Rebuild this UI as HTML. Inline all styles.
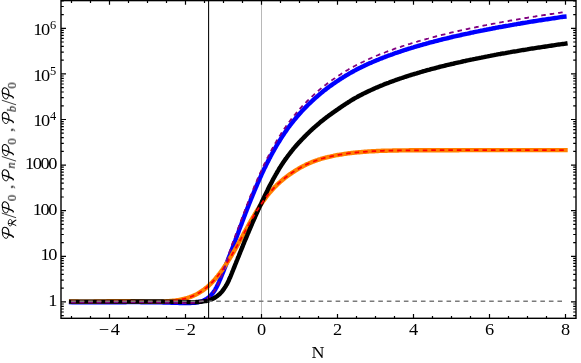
<!DOCTYPE html>
<html><head><meta charset="utf-8"><title>plot</title>
<style>html,body{margin:0;padding:0;background:#fff;}body{width:581px;height:363px;overflow:hidden;font-family:"Liberation Serif",serif;}svg{display:block;}</style>
</head><body>
<svg width="581" height="363" viewBox="0 0 581 363">
<rect width="581" height="363" fill="#fff"/>
<line x1="261.5" y1="0.6" x2="261.5" y2="318.3" stroke="#b8b8b8" stroke-width="1"/>
<path d="M71.1,302.2 L72.7,302.3 L74.3,302.3 L75.9,302.3 L77.5,302.3 L79.0,302.4 L80.6,302.4 L82.2,302.4 L83.8,302.4 L85.3,302.4 L86.9,302.4 L88.4,302.4 L90.0,302.4 L91.6,302.4 L93.1,302.4 L94.7,302.4 L96.2,302.4 L97.8,302.4 L99.3,302.3 L100.9,302.3 L102.4,302.3 L104.0,302.3 L105.5,302.3 L107.0,302.3 L108.6,302.3 L110.1,302.3 L111.7,302.2 L113.2,302.2 L114.8,302.2 L116.3,302.2 L117.9,302.2 L119.4,302.2 L121.0,302.2 L122.5,302.2 L124.1,302.2 L125.6,302.2 L127.2,302.1 L128.7,302.1 L130.3,302.1 L131.8,302.1 L133.4,302.1 L135.0,302.1 L136.5,302.1 L138.1,302.1 L139.6,302.1 L141.2,302.2 L142.8,302.2 L144.3,302.2 L145.9,302.2 L147.5,302.2 L149.1,302.2 L150.6,302.2 L152.2,302.3 L153.8,302.3 L155.4,302.3 L157.0,302.3 L158.6,302.4 L160.1,302.4 L161.7,302.4 L163.3,302.5 L164.9,302.5 L166.5,302.5 L168.1,302.6 L169.7,302.6 L171.4,302.7 L173.0,302.7 L174.6,302.8 L176.2,302.8 L177.8,302.9 L179.4,303.0 L181.0,303.0 L182.6,303.0 L184.2,303.1 L185.8,303.1 L187.3,303.1 L188.9,303.0 L190.4,303.0 L191.9,302.9 L193.3,302.8 L194.7,302.7 L196.1,302.5 L197.5,302.3 L198.8,302.0 L200.0,301.7 L201.2,301.4 L202.4,301.0 L203.5,300.6 L204.6,300.1 L205.6,299.5 L206.6,298.9 L207.5,298.3 L208.4,297.6 L209.3,296.9 L210.1,296.2 L210.8,295.4 L211.6,294.6 L212.3,293.7 L213.0,292.9 L213.6,292.0 L214.3,291.0 L214.9,290.1 L215.5,289.1 L216.0,288.1 L216.6,287.1 L217.1,286.1 L217.6,285.0 L218.1,284.0 L218.6,282.9 L219.1,281.8 L219.5,280.7 L220.0,279.6 L220.5,278.5 L220.9,277.4 L221.4,276.3 L221.8,275.2 L222.3,274.1 L222.7,273.0 L223.2,271.9 L223.6,270.8 L224.1,269.6 L224.5,268.5 L225.0,267.4 L225.4,266.3 L225.8,265.2 L226.3,264.1 L226.7,262.9 L227.2,261.8 L227.6,260.7 L228.0,259.6 L228.5,258.4 L228.9,257.3 L229.3,256.2 L229.8,255.1 L230.2,253.9 L230.6,252.8 L231.0,251.7 L231.5,250.6 L231.9,249.4 L232.3,248.3 L232.8,247.2 L233.2,246.0 L233.6,244.9 L234.0,243.8 L234.5,242.6 L234.9,241.5 L235.3,240.4 L235.7,239.2 L236.2,238.1 L236.6,236.9 L237.0,235.8 L237.4,234.7 L237.9,233.5 L238.3,232.4 L238.7,231.3 L239.1,230.1 L239.5,229.0 L240.0,227.9 L240.4,226.7 L240.8,225.6 L241.3,224.5 L241.7,223.3 L242.1,222.2 L242.5,221.1 L243.0,219.9 L243.4,218.8 L243.8,217.7 L244.2,216.6 L244.7,215.4 L245.1,214.3 L245.5,213.2 L246.0,212.0 L246.4,210.9 L246.8,209.8 L247.3,208.7 L247.7,207.6 L248.2,206.4 L248.6,205.3 L249.0,204.2 L249.5,203.1 L249.9,202.0 L250.4,200.8 L250.8,199.7 L251.3,198.6 L251.7,197.5 L252.2,196.4 L252.6,195.3 L253.1,194.2 L253.5,193.1 L254.0,192.0 L254.4,190.9 L254.9,189.8 L255.4,188.7 L255.8,187.6 L256.3,186.5 L256.8,185.4 L257.2,184.3 L257.7,183.2 L258.2,182.1 L258.6,181.1 L259.1,180.0 L259.6,178.9 L260.1,177.8 L260.6,176.8 L261.1,175.7 L261.5,174.6 L262.0,173.5 L262.5,172.5 L263.0,171.4 L263.5,170.4 L264.0,169.3 L264.5,168.3 L265.1,167.2 L265.6,166.2 L266.1,165.1 L266.6,164.1 L267.1,163.0 L267.6,162.0 L268.2,161.0 L268.7,159.9 L269.2,158.9 L269.8,157.9 L270.3,156.9 L270.8,155.8 L271.4,154.8 L271.9,153.8 L272.5,152.8 L273.0,151.8 L273.6,150.8 L274.2,149.8 L274.7,148.8 L275.3,147.8 L275.9,146.8 L276.4,145.9 L277.0,144.9 L277.6,143.9 L278.2,142.9 L278.8,142.0 L279.4,141.0 L280.0,140.0 L280.6,139.1 L281.2,138.1 L281.8,137.2 L282.4,136.2 L283.0,135.3 L283.7,134.4 L284.3,133.4 L284.9,132.5 L285.6,131.6 L286.2,130.7 L286.8,129.8 L287.5,128.8 L288.1,127.9 L288.8,127.0 L289.5,126.1 L290.1,125.3 L290.8,124.4 L291.5,123.5 L292.2,122.6 L292.9,121.7 L293.6,120.9 L294.2,120.0 L295.0,119.2 L295.7,118.3 L296.4,117.5 L297.1,116.6 L297.8,115.8 L298.5,114.9 L299.3,114.1 L300.0,113.3 L300.7,112.5 L301.5,111.6 L302.2,110.8 L303.0,110.0 L303.7,109.2 L304.5,108.4 L305.3,107.6 L306.0,106.9 L306.8,106.1 L307.6,105.3 L308.4,104.5 L309.2,103.7 L310.0,103.0 L310.8,102.2 L311.6,101.5 L312.4,100.7 L313.2,100.0 L314.0,99.2 L314.8,98.5 L315.6,97.7 L316.5,97.0 L317.3,96.3 L318.1,95.6 L319.0,94.8 L319.8,94.1 L320.7,93.4 L321.5,92.7 L322.4,92.0 L323.2,91.3 L324.1,90.6 L325.0,89.9 L325.9,89.3 L326.7,88.6 L327.6,87.9 L328.5,87.3 L329.4,86.6 L330.3,85.9 L331.2,85.3 L332.1,84.7 L333.0,84.0 L333.9,83.4 L334.9,82.8 L335.8,82.1 L336.7,81.5 L337.6,80.9 L338.6,80.3 L339.5,79.6 L340.5,79.0 L341.4,78.4 L342.4,77.8 L343.3,77.2 L344.3,76.6 L345.2,76.0 L346.2,75.4 L347.2,74.8 L348.1,74.3 L349.1,73.7 L350.1,73.1 L351.1,72.6 L352.1,72.0 L353.1,71.5 L354.1,70.9 L355.1,70.4 L356.1,69.8 L357.1,69.3 L358.1,68.8 L359.1,68.3 L360.2,67.8 L361.2,67.3 L362.2,66.8 L363.3,66.3 L364.3,65.8 L365.3,65.3 L366.4,64.8 L367.4,64.3 L368.5,63.8 L369.5,63.3 L370.6,62.9 L371.7,62.4 L372.7,61.9 L373.8,61.5 L374.9,61.0 L376.0,60.6 L377.1,60.1 L378.1,59.7 L379.2,59.2 L380.3,58.8 L381.4,58.4 L382.5,57.9 L383.6,57.5 L384.8,57.1 L385.9,56.6 L387.0,56.2 L388.1,55.8 L389.2,55.4 L390.4,55.0 L391.5,54.6 L392.6,54.2 L393.8,53.7 L394.9,53.3 L396.0,52.9 L397.2,52.6 L398.4,52.2 L399.5,51.8 L400.7,51.4 L401.8,51.0 L403.0,50.6 L404.2,50.2 L405.3,49.8 L406.5,49.5 L407.7,49.1 L408.9,48.7 L410.1,48.4 L411.3,48.0 L412.5,47.6 L413.7,47.3 L414.8,46.9 L416.1,46.5 L417.3,46.2 L418.5,45.8 L419.7,45.5 L420.9,45.1 L422.1,44.8 L423.3,44.4 L424.6,44.1 L425.8,43.8 L427.0,43.4 L428.2,43.1 L429.5,42.7 L430.7,42.4 L431.9,42.1 L433.2,41.8 L434.4,41.4 L435.7,41.1 L436.9,40.8 L438.2,40.5 L439.4,40.1 L440.7,39.8 L441.9,39.5 L443.2,39.2 L444.5,38.9 L445.7,38.6 L447.0,38.3 L448.3,38.0 L449.6,37.7 L450.8,37.3 L452.1,37.0 L453.4,36.7 L454.7,36.4 L455.9,36.2 L457.2,35.9 L458.5,35.6 L459.8,35.3 L461.1,35.0 L462.4,34.7 L463.7,34.4 L465.0,34.1 L466.3,33.8 L467.6,33.6 L468.9,33.3 L470.2,33.0 L471.5,32.7 L472.8,32.5 L474.1,32.2 L475.4,31.9 L476.7,31.6 L478.0,31.4 L479.3,31.1 L480.6,30.8 L482.0,30.6 L483.3,30.3 L484.6,30.0 L485.9,29.8 L487.2,29.5 L488.5,29.3 L489.9,29.0 L491.2,28.8 L492.5,28.5 L493.8,28.2 L495.2,28.0 L496.5,27.7 L497.8,27.5 L499.2,27.2 L500.5,27.0 L501.8,26.8 L503.1,26.5 L504.5,26.3 L505.8,26.0 L507.1,25.8 L508.5,25.6 L509.8,25.3 L511.1,25.1 L512.5,24.9 L513.8,24.6 L515.1,24.4 L516.5,24.2 L517.8,23.9 L519.2,23.7 L520.5,23.5 L521.8,23.2 L523.2,23.0 L524.5,22.8 L525.9,22.6 L527.2,22.4 L528.5,22.1 L529.9,21.9 L531.2,21.7 L532.5,21.5 L533.9,21.3 L535.2,21.1 L536.6,20.8 L537.9,20.6 L539.2,20.4 L540.6,20.2 L541.9,20.0 L543.3,19.8 L544.6,19.6 L545.9,19.4 L547.3,19.2 L548.6,19.0 L549.9,18.8 L551.3,18.6 L552.6,18.4 L554.0,18.2 L555.3,18.0 L556.6,17.8 L558.0,17.6 L559.3,17.4 L560.6,17.2 L561.9,17.0 L563.3,16.8 L564.4,16.7" fill="none" stroke="#0000ff" stroke-width="4.4" stroke-linecap="square" stroke-linejoin="round"/>
<path d="M71.1,301.4 L72.5,301.4 L73.8,301.5 L75.1,301.5 L76.4,301.5 L77.7,301.5 L79.1,301.6 L80.4,301.6 L81.7,301.6 L83.0,301.6 L84.3,301.6 L85.6,301.6 L86.8,301.6 L88.1,301.6 L89.4,301.6 L90.7,301.6 L92.0,301.6 L93.3,301.6 L94.5,301.5 L95.8,301.5 L97.1,301.5 L98.4,301.5 L99.6,301.5 L100.9,301.4 L102.2,301.4 L103.4,301.4 L104.7,301.4 L106.0,301.4 L107.3,301.3 L108.5,301.3 L109.8,301.3 L111.1,301.3 L112.3,301.3 L113.6,301.2 L114.9,301.2 L116.2,301.2 L117.5,301.2 L118.7,301.2 L120.0,301.2 L121.3,301.2 L122.6,301.2 L123.9,301.2 L125.2,301.2 L126.5,301.2 L127.8,301.2 L129.1,301.3 L130.4,301.3 L131.8,301.3 L133.1,301.3 L134.4,301.3 L135.7,301.4 L137.0,301.4 L138.3,301.4 L139.7,301.5 L141.0,301.5 L142.3,301.5 L143.6,301.5 L144.9,301.6 L146.2,301.6 L147.6,301.6 L148.9,301.6 L150.2,301.6 L151.5,301.6 L152.8,301.6 L154.1,301.6 L155.3,301.6 L156.6,301.6 L157.9,301.6 L159.2,301.6 L160.4,301.6 L161.7,301.5 L162.9,301.5 L164.2,301.4 L165.4,301.4 L166.6,301.3 L167.8,301.2 L169.0,301.1 L170.2,301.0 L171.4,300.9 L172.6,300.8 L173.8,300.7 L174.9,300.6 L176.1,300.4 L177.2,300.2 L178.3,300.1 L179.4,299.9 L180.5,299.7 L181.6,299.5 L182.6,299.2 L183.7,299.0 L184.7,298.7 L185.7,298.5 L186.7,298.2 L187.7,297.9 L188.7,297.5 L189.7,297.2 L190.6,296.9 L191.5,296.5 L192.5,296.1 L193.4,295.7 L194.3,295.3 L195.1,294.9 L196.0,294.5 L196.8,294.1 L197.7,293.6 L198.5,293.1 L199.3,292.7 L200.1,292.2 L200.9,291.7 L201.7,291.2 L202.5,290.6 L203.2,290.1 L204.0,289.6 L204.7,289.0 L205.4,288.4 L206.1,287.9 L206.9,287.3 L207.6,286.7 L208.2,286.1 L208.9,285.5 L209.6,284.8 L210.3,284.2 L210.9,283.6 L211.5,282.9 L212.2,282.3 L212.8,281.6 L213.4,280.9 L214.1,280.3 L214.7,279.6 L215.3,278.9 L215.9,278.2 L216.4,277.5 L217.0,276.8 L217.6,276.1 L218.2,275.3 L218.7,274.6 L219.3,273.9 L219.9,273.2 L220.4,272.4 L221.0,271.7 L221.5,270.9 L222.0,270.2 L222.6,269.4 L223.1,268.7 L223.6,267.9 L224.2,267.1 L224.7,266.3 L225.2,265.6 L225.7,264.8 L226.2,264.0 L226.7,263.2 L227.2,262.4 L227.7,261.7 L228.2,260.9 L228.7,260.1 L229.2,259.3 L229.7,258.5 L230.2,257.7 L230.7,256.9 L231.2,256.1 L231.7,255.3 L232.1,254.4 L232.6,253.6 L233.1,252.8 L233.6,252.0 L234.0,251.2 L234.5,250.4 L235.0,249.5 L235.5,248.7 L235.9,247.9 L236.4,247.1 L236.9,246.2 L237.3,245.4 L237.8,244.6 L238.2,243.7 L238.7,242.9 L239.2,242.1 L239.6,241.3 L240.1,240.4 L240.5,239.6 L241.0,238.7 L241.4,237.9 L241.9,237.1 L242.4,236.2 L242.8,235.4 L243.3,234.6 L243.7,233.7 L244.2,232.9 L244.6,232.1 L245.1,231.2 L245.6,230.4 L246.0,229.6 L246.5,228.7 L246.9,227.9 L247.4,227.1 L247.9,226.2 L248.3,225.4 L248.8,224.6 L249.2,223.8 L249.7,222.9 L250.2,222.1 L250.6,221.3 L251.1,220.5 L251.6,219.6 L252.1,218.8 L252.5,218.0 L253.0,217.2 L253.5,216.4 L254.0,215.6 L254.5,214.8 L254.9,213.9 L255.4,213.1 L255.9,212.3 L256.4,211.5 L256.9,210.7 L257.4,209.9 L257.9,209.2 L258.4,208.4 L258.9,207.6 L259.4,206.8 L259.9,206.0 L260.4,205.2 L260.9,204.5 L261.5,203.7 L262.0,202.9 L262.5,202.2 L263.0,201.4 L263.6,200.6 L264.1,199.9 L264.7,199.1 L265.2,198.4 L265.8,197.6 L266.3,196.9 L266.9,196.2 L267.4,195.4 L268.0,194.7 L268.6,194.0 L269.1,193.3 L269.7,192.6 L270.3,192.0 L270.9,191.3 L271.5,190.6 L272.1,190.0 L272.7,189.3 L273.3,188.6 L273.9,188.0 L274.5,187.4 L275.1,186.7 L275.8,186.1 L276.4,185.5 L277.0,184.8 L277.7,184.2 L278.3,183.6 L279.0,183.0 L279.6,182.4 L280.3,181.8 L281.0,181.2 L281.6,180.7 L282.3,180.1 L283.0,179.5 L283.7,178.9 L284.4,178.4 L285.1,177.8 L285.8,177.3 L286.5,176.8 L287.2,176.2 L287.9,175.7 L288.7,175.2 L289.4,174.6 L290.1,174.1 L290.9,173.6 L291.6,173.1 L292.3,172.6 L293.1,172.1 L293.9,171.6 L294.6,171.1 L295.4,170.6 L296.2,170.1 L297.0,169.6 L297.8,169.2 L298.6,168.7 L299.4,168.2 L300.3,167.7 L301.1,167.2 L302.0,166.8 L302.8,166.3 L303.7,165.8 L304.6,165.4 L305.4,165.0 L306.3,164.5 L307.2,164.1 L308.2,163.7 L309.1,163.3 L310.0,162.9 L310.9,162.5 L311.9,162.1 L312.8,161.7 L313.8,161.4 L314.8,161.0 L315.7,160.7 L316.7,160.3 L317.7,160.0 L318.7,159.6 L319.7,159.3 L320.7,159.0 L321.7,158.6 L322.8,158.4 L323.8,158.1 L324.8,157.8 L325.9,157.5 L326.9,157.3 L328.0,157.0 L329.0,156.8 L330.1,156.6 L331.2,156.3 L332.2,156.1 L333.3,155.9 L334.4,155.6 L335.5,155.4 L336.6,155.2 L337.7,155.0 L338.8,154.8 L340.0,154.6 L341.1,154.5 L342.2,154.3 L343.3,154.1 L344.5,153.9 L345.6,153.8 L346.8,153.6 L347.9,153.4 L349.1,153.3 L350.2,153.1 L351.4,153.0 L352.6,152.9 L353.7,152.7 L354.9,152.6 L356.1,152.5 L357.3,152.4 L358.5,152.3 L359.6,152.2 L360.8,152.1 L362.0,152.0 L363.2,151.9 L364.5,151.8 L365.7,151.7 L366.9,151.6 L368.1,151.5 L369.3,151.4 L370.5,151.4 L371.8,151.3 L373.0,151.2 L374.2,151.2 L375.5,151.1 L376.7,151.0 L377.9,151.0 L379.2,150.9 L380.4,150.9 L381.7,150.8 L382.9,150.8 L384.2,150.7 L385.4,150.7 L386.7,150.7 L388.0,150.6 L389.2,150.6 L390.5,150.6 L391.8,150.6 L393.0,150.5 L394.3,150.5 L395.6,150.5 L396.8,150.5 L398.1,150.5 L399.4,150.4 L400.7,150.4 L401.9,150.4 L403.2,150.4 L404.5,150.4 L405.8,150.4 L407.1,150.4 L408.3,150.4 L409.6,150.3 L410.9,150.3 L412.2,150.3 L413.5,150.3 L414.8,150.3 L416.0,150.3 L417.3,150.3 L418.6,150.3 L419.9,150.3 L421.2,150.3 L422.5,150.3 L423.8,150.3 L425.0,150.3 L426.3,150.3 L427.6,150.3 L428.9,150.3 L430.2,150.3 L431.5,150.2 L432.8,150.2 L434.1,150.2 L435.3,150.2 L436.6,150.2 L437.9,150.2 L439.2,150.2 L440.5,150.2 L441.8,150.2 L443.1,150.2 L444.3,150.2 L445.6,150.2 L446.9,150.2 L448.2,150.2 L449.5,150.2 L450.8,150.2 L452.1,150.2 L453.4,150.2 L454.6,150.2 L455.9,150.2 L457.2,150.2 L458.5,150.2 L459.8,150.1 L461.1,150.1 L462.4,150.1 L463.7,150.1 L464.9,150.1 L466.2,150.1 L467.5,150.1 L468.8,150.1 L470.1,150.1 L471.4,150.1 L472.7,150.1 L474.0,150.1 L475.3,150.1 L476.5,150.1 L477.8,150.1 L479.1,150.1 L480.4,150.1 L481.7,150.1 L483.0,150.1 L484.3,150.1 L485.6,150.1 L486.9,150.1 L488.1,150.1 L489.4,150.1 L490.7,150.1 L492.0,150.1 L493.3,150.1 L494.6,150.1 L495.9,150.1 L497.2,150.1 L498.5,150.1 L499.8,150.1 L501.0,150.1 L502.3,150.1 L503.6,150.1 L504.9,150.1 L506.2,150.1 L507.5,150.1 L508.8,150.1 L510.1,150.1 L511.4,150.1 L512.7,150.1 L514.0,150.1 L515.2,150.1 L516.5,150.1 L517.8,150.1 L519.1,150.1 L520.4,150.1 L521.7,150.1 L523.0,150.1 L524.3,150.1 L525.6,150.1 L526.9,150.1 L528.2,150.1 L529.5,150.1 L530.8,150.1 L532.0,150.1 L533.3,150.1 L534.6,150.1 L535.9,150.1 L537.2,150.1 L538.5,150.1 L539.8,150.1 L541.1,150.1 L542.4,150.1 L543.7,150.1 L545.0,150.1 L546.3,150.1 L547.6,150.1 L548.9,150.1 L550.2,150.1 L551.5,150.1 L552.8,150.1 L554.0,150.1 L555.3,150.1 L556.6,150.1 L557.9,150.1 L559.2,150.1 L560.5,150.1 L561.8,150.1 L563.1,150.1 L564.4,150.1 L565.5,150.1" fill="none" stroke="#ff8000" stroke-width="4.4" stroke-linecap="square" stroke-linejoin="round"/>
<path d="M71.2,301.6 L72.7,301.6 L74.2,301.6 L75.7,301.6 L77.2,301.6 L78.7,301.6 L80.2,301.6 L81.7,301.6 L83.3,301.6 L84.8,301.6 L86.3,301.6 L87.8,301.6 L89.3,301.6 L90.8,301.6 L92.3,301.6 L93.8,301.6 L95.3,301.6 L96.8,301.6 L98.3,301.6 L99.8,301.6 L101.3,301.6 L102.8,301.6 L104.3,301.6 L105.8,301.6 L107.3,301.6 L108.8,301.6 L110.4,301.6 L111.9,301.6 L113.4,301.6 L114.9,301.6 L116.4,301.6 L117.9,301.6 L119.4,301.6 L120.9,301.6 L122.4,301.6 L123.9,301.6 L125.4,301.6 L126.9,301.6 L128.4,301.6 L129.9,301.6 L131.4,301.5 L132.9,301.5 L134.3,301.5 L135.8,301.5 L137.3,301.5 L138.8,301.5 L140.3,301.5 L141.8,301.5 L143.3,301.5 L144.8,301.5 L146.3,301.5 L147.9,301.5 L149.4,301.5 L150.9,301.5 L152.4,301.5 L153.9,301.5 L155.4,301.5 L156.9,301.5 L158.4,301.5 L159.9,301.5 L161.4,301.5 L163.0,301.5 L164.5,301.6 L166.0,301.6 L167.5,301.6 L169.1,301.6 L170.6,301.6 L172.1,301.7 L173.6,301.7 L175.2,301.7 L176.7,301.8 L178.3,301.8 L179.8,301.8 L181.4,301.9 L182.9,301.9 L184.5,302.0 L186.0,302.0 L187.5,302.0 L189.1,302.1 L190.6,302.1 L192.1,302.1 L193.6,302.1 L195.1,302.1 L196.6,302.0 L198.0,302.0 L199.4,301.9 L200.8,301.8 L202.2,301.6 L203.5,301.4 L204.8,301.2 L206.1,301.0 L207.3,300.7 L208.5,300.4 L209.6,300.0 L210.7,299.6 L211.8,299.2 L212.8,298.7 L213.8,298.2 L214.8,297.7 L215.7,297.1 L216.6,296.5 L217.5,295.9 L218.3,295.2 L219.1,294.5 L219.9,293.8 L220.6,293.0 L221.4,292.2 L222.1,291.4 L222.7,290.6 L223.4,289.7 L224.0,288.8 L224.6,287.9 L225.2,287.0 L225.8,286.1 L226.3,285.1 L226.9,284.2 L227.4,283.2 L227.9,282.2 L228.4,281.2 L228.9,280.2 L229.3,279.1 L229.8,278.1 L230.3,277.0 L230.7,276.0 L231.1,274.9 L231.6,273.8 L232.0,272.8 L232.4,271.7 L232.9,270.6 L233.3,269.5 L233.7,268.5 L234.2,267.4 L234.6,266.3 L235.0,265.2 L235.4,264.2 L235.9,263.1 L236.3,262.0 L236.7,260.9 L237.2,259.8 L237.6,258.8 L238.0,257.7 L238.5,256.6 L238.9,255.6 L239.3,254.5 L239.8,253.4 L240.2,252.3 L240.6,251.3 L241.1,250.2 L241.5,249.1 L241.9,248.1 L242.4,247.0 L242.8,245.9 L243.2,244.8 L243.7,243.8 L244.1,242.7 L244.5,241.6 L245.0,240.6 L245.4,239.5 L245.9,238.5 L246.3,237.4 L246.8,236.3 L247.2,235.3 L247.6,234.2 L248.1,233.1 L248.5,232.1 L249.0,231.0 L249.4,230.0 L249.9,228.9 L250.3,227.9 L250.8,226.8 L251.2,225.7 L251.7,224.7 L252.1,223.6 L252.6,222.6 L253.0,221.5 L253.5,220.5 L254.0,219.4 L254.4,218.4 L254.9,217.4 L255.3,216.3 L255.8,215.3 L256.3,214.2 L256.7,213.2 L257.2,212.2 L257.7,211.1 L258.1,210.1 L258.6,209.0 L259.1,208.0 L259.5,207.0 L260.0,205.9 L260.5,204.9 L261.0,203.9 L261.5,202.9 L261.9,201.8 L262.4,200.8 L262.9,199.8 L263.4,198.8 L263.9,197.7 L264.4,196.7 L264.8,195.7 L265.3,194.7 L265.8,193.7 L266.3,192.7 L266.8,191.7 L267.3,190.7 L267.8,189.6 L268.3,188.6 L268.8,187.6 L269.3,186.6 L269.8,185.6 L270.3,184.7 L270.9,183.7 L271.4,182.7 L271.9,181.7 L272.4,180.7 L272.9,179.7 L273.5,178.7 L274.0,177.8 L274.5,176.8 L275.1,175.8 L275.6,174.9 L276.2,173.9 L276.7,173.0 L277.3,172.0 L277.8,171.1 L278.4,170.1 L278.9,169.2 L279.5,168.2 L280.1,167.3 L280.7,166.4 L281.2,165.5 L281.8,164.6 L282.4,163.7 L283.0,162.8 L283.6,161.9 L284.2,161.1 L284.8,160.2 L285.4,159.3 L286.1,158.5 L286.7,157.6 L287.3,156.7 L287.9,155.9 L288.6,155.0 L289.2,154.2 L289.9,153.4 L290.5,152.5 L291.2,151.7 L291.8,150.9 L292.5,150.1 L293.1,149.2 L293.8,148.4 L294.5,147.6 L295.2,146.8 L295.9,146.0 L296.5,145.3 L297.2,144.5 L297.9,143.7 L298.6,142.9 L299.4,142.1 L300.1,141.4 L300.8,140.6 L301.5,139.9 L302.2,139.1 L303.0,138.4 L303.7,137.6 L304.4,136.9 L305.2,136.1 L305.9,135.3 L306.7,134.6 L307.4,133.8 L308.2,133.1 L309.0,132.4 L309.7,131.6 L310.5,130.9 L311.3,130.2 L312.1,129.4 L312.9,128.7 L313.7,128.0 L314.4,127.3 L315.2,126.6 L316.0,125.9 L316.9,125.2 L317.7,124.5 L318.5,123.8 L319.3,123.1 L320.1,122.4 L320.9,121.7 L321.8,121.1 L322.6,120.4 L323.5,119.7 L324.3,119.1 L325.1,118.4 L326.0,117.7 L326.8,117.1 L327.7,116.5 L328.6,115.8 L329.4,115.2 L330.3,114.6 L331.2,113.9 L332.0,113.3 L332.9,112.7 L333.8,112.1 L334.7,111.4 L335.6,110.8 L336.5,110.2 L337.4,109.6 L338.3,108.9 L339.2,108.3 L340.1,107.7 L341.0,107.1 L341.9,106.4 L342.8,105.8 L343.8,105.2 L344.7,104.6 L345.6,104.0 L346.5,103.4 L347.5,102.8 L348.4,102.2 L349.4,101.6 L350.3,101.0 L351.2,100.4 L352.2,99.8 L353.2,99.3 L354.1,98.7 L355.1,98.1 L356.0,97.6 L357.0,97.1 L358.0,96.5 L358.9,96.0 L359.9,95.5 L360.9,95.0 L361.9,94.5 L362.9,93.9 L363.9,93.4 L364.9,93.0 L365.9,92.5 L366.9,92.0 L367.9,91.5 L368.9,91.0 L369.9,90.6 L370.9,90.1 L371.9,89.6 L372.9,89.2 L373.9,88.7 L375.0,88.2 L376.0,87.8 L377.0,87.4 L378.1,86.9 L379.1,86.5 L380.2,86.0 L381.2,85.6 L382.3,85.2 L383.3,84.8 L384.4,84.3 L385.4,83.9 L386.5,83.5 L387.6,83.1 L388.7,82.7 L389.7,82.3 L390.8,81.9 L391.9,81.5 L393.0,81.1 L394.1,80.7 L395.2,80.3 L396.3,79.9 L397.4,79.5 L398.5,79.1 L399.6,78.7 L400.7,78.3 L401.8,78.0 L403.0,77.6 L404.1,77.2 L405.2,76.8 L406.4,76.5 L407.5,76.1 L408.6,75.7 L409.8,75.4 L410.9,75.0 L412.1,74.7 L413.2,74.3 L414.4,74.0 L415.6,73.6 L416.7,73.3 L417.9,72.9 L419.1,72.6 L420.2,72.2 L421.4,71.9 L422.6,71.5 L423.8,71.2 L424.9,70.9 L426.1,70.5 L427.3,70.2 L428.5,69.9 L429.7,69.6 L430.9,69.2 L432.1,68.9 L433.3,68.6 L434.5,68.3 L435.7,68.0 L436.9,67.6 L438.1,67.3 L439.3,67.0 L440.5,66.7 L441.8,66.4 L443.0,66.1 L444.2,65.8 L445.4,65.5 L446.6,65.2 L447.9,64.9 L449.1,64.6 L450.3,64.3 L451.5,64.0 L452.8,63.8 L454.0,63.5 L455.2,63.2 L456.5,62.9 L457.7,62.6 L458.9,62.3 L460.2,62.1 L461.4,61.8 L462.6,61.5 L463.9,61.2 L465.1,61.0 L466.4,60.7 L467.6,60.4 L468.8,60.2 L470.1,59.9 L471.3,59.6 L472.6,59.4 L473.8,59.1 L475.1,58.9 L476.3,58.6 L477.6,58.3 L478.8,58.1 L480.1,57.8 L481.3,57.6 L482.6,57.3 L483.8,57.1 L485.1,56.8 L486.3,56.6 L487.6,56.4 L488.9,56.1 L490.1,55.9 L491.4,55.6 L492.7,55.4 L493.9,55.2 L495.2,54.9 L496.4,54.7 L497.7,54.4 L499.0,54.2 L500.3,54.0 L501.5,53.7 L502.8,53.5 L504.1,53.3 L505.4,53.1 L506.6,52.8 L507.9,52.6 L509.2,52.4 L510.5,52.2 L511.8,51.9 L513.0,51.7 L514.3,51.5 L515.6,51.3 L516.9,51.1 L518.2,50.8 L519.5,50.6 L520.8,50.4 L522.1,50.2 L523.4,50.0 L524.6,49.8 L525.9,49.6 L527.2,49.4 L528.5,49.1 L529.8,48.9 L531.1,48.7 L532.5,48.5 L533.8,48.3 L535.1,48.1 L536.4,47.9 L537.7,47.7 L539.0,47.5 L540.3,47.3 L541.6,47.1 L542.9,46.9 L544.3,46.7 L545.6,46.5 L546.9,46.3 L548.2,46.1 L549.5,45.9 L550.9,45.7 L552.2,45.5 L553.5,45.3 L554.9,45.1 L556.2,44.9 L557.5,44.7 L558.9,44.5 L560.2,44.4 L561.5,44.2 L562.9,44.0 L564.2,43.8 L565.4,43.6" fill="none" stroke="#000" stroke-width="4.4" stroke-linecap="square" stroke-linejoin="round"/>
<path d="M71.1,301.4 L72.5,301.4 L73.8,301.5 L75.1,301.5 L76.4,301.5 L77.7,301.5 L79.1,301.6 L80.4,301.6 L81.7,301.6 L83.0,301.6 L84.3,301.6 L85.6,301.6 L86.8,301.6 L88.1,301.6 L89.4,301.6 L90.7,301.6 L92.0,301.6 L93.3,301.6 L94.5,301.5 L95.8,301.5 L97.1,301.5 L98.4,301.5 L99.6,301.5 L100.9,301.4 L102.2,301.4 L103.4,301.4 L104.7,301.4 L106.0,301.4 L107.3,301.3 L108.5,301.3 L109.8,301.3 L111.1,301.3 L112.3,301.3 L113.6,301.2 L114.9,301.2 L116.2,301.2 L117.5,301.2 L118.7,301.2 L120.0,301.2 L121.3,301.2 L122.6,301.2 L123.9,301.2 L125.2,301.2 L126.5,301.2 L127.8,301.2 L129.1,301.3 L130.4,301.3 L131.8,301.3 L133.1,301.3 L134.4,301.3 L135.7,301.4 L137.0,301.4 L138.3,301.4 L139.7,301.5 L141.0,301.5 L142.3,301.5 L143.6,301.5 L144.9,301.6 L146.2,301.6 L147.6,301.6 L148.9,301.6 L150.2,301.6 L151.5,301.6 L152.8,301.6 L154.1,301.6 L155.3,301.6 L156.6,301.6 L157.9,301.6 L159.2,301.6 L160.4,301.6 L161.7,301.5 L162.9,301.5 L164.2,301.4 L165.4,301.4 L166.6,301.3 L167.8,301.2 L169.0,301.1 L170.2,301.0 L171.4,300.9 L172.6,300.8 L173.8,300.7 L174.9,300.6 L176.1,300.4 L177.2,300.2 L178.3,300.1 L179.4,299.9 L180.5,299.7 L181.6,299.5 L182.6,299.2 L183.7,299.0 L184.7,298.7 L185.7,298.5 L186.7,298.2 L187.7,297.9 L188.7,297.5 L189.7,297.2 L190.6,296.9 L191.5,296.5 L192.5,296.1 L193.4,295.7 L194.3,295.3 L195.1,294.9 L196.0,294.5 L196.8,294.1 L197.7,293.6 L198.5,293.1 L199.3,292.7 L200.1,292.2 L200.9,291.7 L201.7,291.2 L202.5,290.6 L203.2,290.1 L204.0,289.6 L204.7,289.0 L205.4,288.4 L206.1,287.9 L206.9,287.3 L207.6,286.7 L208.2,286.1 L208.9,285.5 L209.6,284.8 L210.3,284.2 L210.9,283.6 L211.5,282.9 L212.2,282.3 L212.8,281.6 L213.4,280.9 L214.1,280.3 L214.7,279.6 L215.3,278.9 L215.9,278.2 L216.4,277.5 L217.0,276.8 L217.6,276.1 L218.2,275.3 L218.7,274.6 L219.3,273.9 L219.9,273.2 L220.4,272.4 L221.0,271.7 L221.5,270.9 L222.0,270.2 L222.6,269.4 L223.1,268.7 L223.6,267.9 L224.2,267.1 L224.7,266.3 L225.2,265.6 L225.7,264.8 L226.2,264.0 L226.7,263.2 L227.2,262.4 L227.7,261.7 L228.2,260.9 L228.7,260.1 L229.2,259.3 L229.7,258.5 L230.2,257.7 L230.7,256.9 L231.2,256.1 L231.7,255.3 L232.1,254.4 L232.6,253.6 L233.1,252.8 L233.6,252.0 L234.0,251.2 L234.5,250.4 L235.0,249.5 L235.5,248.7 L235.9,247.9 L236.4,247.1 L236.9,246.2 L237.3,245.4 L237.8,244.6 L238.2,243.7 L238.7,242.9 L239.2,242.1 L239.6,241.3 L240.1,240.4 L240.5,239.6 L241.0,238.7 L241.4,237.9 L241.9,237.1 L242.4,236.2 L242.8,235.4 L243.3,234.6 L243.7,233.7 L244.2,232.9 L244.6,232.1 L245.1,231.2 L245.6,230.4 L246.0,229.6 L246.5,228.7 L246.9,227.9 L247.4,227.1 L247.9,226.2 L248.3,225.4 L248.8,224.6 L249.2,223.8 L249.7,222.9 L250.2,222.1 L250.6,221.3 L251.1,220.5 L251.6,219.6 L252.1,218.8 L252.5,218.0 L253.0,217.2 L253.5,216.4 L254.0,215.6 L254.5,214.8 L254.9,213.9 L255.4,213.1 L255.9,212.3 L256.4,211.5 L256.9,210.7 L257.4,209.9 L257.9,209.2 L258.4,208.4 L258.9,207.6 L259.4,206.8 L259.9,206.0 L260.4,205.2 L260.9,204.5 L261.5,203.7 L262.0,202.9 L262.5,202.2 L263.0,201.4 L263.6,200.6 L264.1,199.9 L264.7,199.1 L265.2,198.4 L265.8,197.6 L266.3,196.9 L266.9,196.2 L267.4,195.4 L268.0,194.7 L268.6,194.0 L269.1,193.3 L269.7,192.6 L270.3,192.0 L270.9,191.3 L271.5,190.6 L272.1,190.0 L272.7,189.3 L273.3,188.6 L273.9,188.0 L274.5,187.4 L275.1,186.7 L275.8,186.1 L276.4,185.5 L277.0,184.8 L277.7,184.2 L278.3,183.6 L279.0,183.0 L279.6,182.4 L280.3,181.8 L281.0,181.2 L281.6,180.7 L282.3,180.1 L283.0,179.5 L283.7,178.9 L284.4,178.4 L285.1,177.8 L285.8,177.3 L286.5,176.8 L287.2,176.2 L287.9,175.7 L288.7,175.2 L289.4,174.6 L290.1,174.1 L290.9,173.6 L291.6,173.1 L292.3,172.6 L293.1,172.1 L293.9,171.6 L294.6,171.1 L295.4,170.6 L296.2,170.1 L297.0,169.6 L297.8,169.2 L298.6,168.7 L299.4,168.2 L300.3,167.7 L301.1,167.2 L302.0,166.8 L302.8,166.3 L303.7,165.8 L304.6,165.4 L305.4,165.0 L306.3,164.5 L307.2,164.1 L308.2,163.7 L309.1,163.3 L310.0,162.9 L310.9,162.5 L311.9,162.1 L312.8,161.7 L313.8,161.4 L314.8,161.0 L315.7,160.7 L316.7,160.3 L317.7,160.0 L318.7,159.6 L319.7,159.3 L320.7,159.0 L321.7,158.6 L322.8,158.4 L323.8,158.1 L324.8,157.8 L325.9,157.5 L326.9,157.3 L328.0,157.0 L329.0,156.8 L330.1,156.6 L331.2,156.3 L332.2,156.1 L333.3,155.9 L334.4,155.6 L335.5,155.4 L336.6,155.2 L337.7,155.0 L338.8,154.8 L340.0,154.6 L341.1,154.5 L342.2,154.3 L343.3,154.1 L344.5,153.9 L345.6,153.8 L346.8,153.6 L347.9,153.4 L349.1,153.3 L350.2,153.1 L351.4,153.0 L352.6,152.9 L353.7,152.7 L354.9,152.6 L356.1,152.5 L357.3,152.4 L358.5,152.3 L359.6,152.2 L360.8,152.1 L362.0,152.0 L363.2,151.9 L364.5,151.8 L365.7,151.7 L366.9,151.6 L368.1,151.5 L369.3,151.4 L370.5,151.4 L371.8,151.3 L373.0,151.2 L374.2,151.2 L375.5,151.1 L376.7,151.0 L377.9,151.0 L379.2,150.9 L380.4,150.9 L381.7,150.8 L382.9,150.8 L384.2,150.7 L385.4,150.7 L386.7,150.7 L388.0,150.6 L389.2,150.6 L390.5,150.6 L391.8,150.6 L393.0,150.5 L394.3,150.5 L395.6,150.5 L396.8,150.5 L398.1,150.5 L399.4,150.4 L400.7,150.4 L401.9,150.4 L403.2,150.4 L404.5,150.4 L405.8,150.4 L407.1,150.4 L408.3,150.4 L409.6,150.3 L410.9,150.3 L412.2,150.3 L413.5,150.3 L414.8,150.3 L416.0,150.3 L417.3,150.3 L418.6,150.3 L419.9,150.3 L421.2,150.3 L422.5,150.3 L423.8,150.3 L425.0,150.3 L426.3,150.3 L427.6,150.3 L428.9,150.3 L430.2,150.3 L431.5,150.2 L432.8,150.2 L434.1,150.2 L435.3,150.2 L436.6,150.2 L437.9,150.2 L439.2,150.2 L440.5,150.2 L441.8,150.2 L443.1,150.2 L444.3,150.2 L445.6,150.2 L446.9,150.2 L448.2,150.2 L449.5,150.2 L450.8,150.2 L452.1,150.2 L453.4,150.2 L454.6,150.2 L455.9,150.2 L457.2,150.2 L458.5,150.2 L459.8,150.1 L461.1,150.1 L462.4,150.1 L463.7,150.1 L464.9,150.1 L466.2,150.1 L467.5,150.1 L468.8,150.1 L470.1,150.1 L471.4,150.1 L472.7,150.1 L474.0,150.1 L475.3,150.1 L476.5,150.1 L477.8,150.1 L479.1,150.1 L480.4,150.1 L481.7,150.1 L483.0,150.1 L484.3,150.1 L485.6,150.1 L486.9,150.1 L488.1,150.1 L489.4,150.1 L490.7,150.1 L492.0,150.1 L493.3,150.1 L494.6,150.1 L495.9,150.1 L497.2,150.1 L498.5,150.1 L499.8,150.1 L501.0,150.1 L502.3,150.1 L503.6,150.1 L504.9,150.1 L506.2,150.1 L507.5,150.1 L508.8,150.1 L510.1,150.1 L511.4,150.1 L512.7,150.1 L514.0,150.1 L515.2,150.1 L516.5,150.1 L517.8,150.1 L519.1,150.1 L520.4,150.1 L521.7,150.1 L523.0,150.1 L524.3,150.1 L525.6,150.1 L526.9,150.1 L528.2,150.1 L529.5,150.1 L530.8,150.1 L532.0,150.1 L533.3,150.1 L534.6,150.1 L535.9,150.1 L537.2,150.1 L538.5,150.1 L539.8,150.1 L541.1,150.1 L542.4,150.1 L543.7,150.1 L545.0,150.1 L546.3,150.1 L547.6,150.1 L548.9,150.1 L550.2,150.1 L551.5,150.1 L552.8,150.1 L554.0,150.1 L555.3,150.1 L556.6,150.1 L557.9,150.1 L559.2,150.1 L560.5,150.1 L561.8,150.1 L563.1,150.1 L564.4,150.1 L565.5,150.1" fill="none" stroke="#ff0000" stroke-width="1.8" stroke-dasharray="4.6 3.93" stroke-linejoin="round"/>
<path d="M71.1,302.2 L72.7,302.3 L74.3,302.3 L75.9,302.3 L77.5,302.3 L79.0,302.4 L80.6,302.4 L82.2,302.4 L83.8,302.4 L85.3,302.4 L86.9,302.4 L88.4,302.4 L90.0,302.4 L91.6,302.4 L93.1,302.4 L94.7,302.4 L96.2,302.4 L97.8,302.4 L99.3,302.3 L100.9,302.3 L102.4,302.3 L104.0,302.3 L105.5,302.3 L107.0,302.3 L108.6,302.3 L110.1,302.3 L111.7,302.2 L113.2,302.2 L114.8,302.2 L116.3,302.2 L117.9,302.2 L119.4,302.2 L121.0,302.2 L122.5,302.2 L124.1,302.2 L125.6,302.2 L127.2,302.1 L128.7,302.1 L130.3,302.1 L131.8,302.1 L133.4,302.1 L135.0,302.1 L136.5,302.1 L138.1,302.1 L139.6,302.1 L141.2,302.2 L142.8,302.2 L144.3,302.2 L145.9,302.2 L147.5,302.2 L149.1,302.2 L150.6,302.2 L152.2,302.3 L153.8,302.3 L155.4,302.3 L157.0,302.3 L158.6,302.4 L160.1,302.4 L161.7,302.4 L163.3,302.5 L164.9,302.5 L166.5,302.5 L168.1,302.6 L169.7,302.6 L171.4,302.7 L173.0,302.7 L174.6,302.8 L176.2,302.8 L177.8,302.9 L179.4,303.0 L181.0,303.0 L182.6,303.0 L184.2,303.1 L185.8,303.1 L187.3,303.1 L188.9,303.0 L190.4,303.0 L191.9,302.9 L193.3,302.8 L194.7,302.7 L196.1,302.5 L197.5,302.3 L198.8,302.0 L200.0,301.7 L201.2,301.4 L202.4,301.0 L203.5,300.6 L204.6,300.1 L205.6,299.5 L206.6,298.9 L207.5,298.3 L208.4,297.6 L209.3,296.9 L210.1,296.2 L210.8,295.4 L211.6,294.6 L212.3,293.7 L213.0,292.9 L213.6,292.0 L214.3,291.0 L214.9,290.1 L215.5,289.1 L216.0,288.1 L216.6,287.1 L217.1,286.1 L217.6,285.0 L218.1,284.0 L218.6,282.9 L219.1,281.8 L219.5,280.7 L220.0,279.6 L220.5,278.5 L220.9,277.4 L221.4,276.3 L221.8,275.2 L222.3,274.1 L222.7,272.9 L223.2,271.7 L223.6,270.5 L224.1,269.2 L224.5,267.9 L225.0,266.6 L225.4,265.3 L225.8,263.9 L226.3,262.5 L226.7,261.1 L227.2,259.7 L227.6,258.3 L228.0,256.9 L228.5,255.6 L228.9,254.2 L229.3,252.8 L229.8,251.4 L230.2,250.1 L230.6,248.8 L231.0,247.5 L231.5,246.2 L231.9,244.9 L232.3,243.7 L232.8,242.6 L233.2,241.4 L233.6,240.3 L234.0,239.2 L234.5,238.0 L234.9,236.9 L235.3,235.8 L235.7,234.6 L236.2,233.5 L236.6,232.3 L237.0,231.2 L237.4,230.1 L237.9,228.9 L238.3,227.8 L238.7,226.7 L239.1,225.5 L239.5,224.4 L240.0,223.3 L240.4,222.1 L240.8,221.0 L241.3,219.9 L241.7,218.7 L242.1,217.6 L242.5,216.5 L243.0,215.3 L243.4,214.2 L243.8,213.1 L244.2,212.0 L244.7,210.8 L245.1,209.7 L245.5,208.6 L246.0,207.4 L246.4,206.3 L246.8,205.2 L247.3,204.1 L247.7,203.0 L248.2,201.8 L248.6,200.7 L249.0,199.6 L249.5,198.5 L249.9,197.4 L250.4,196.2 L250.8,195.1 L251.3,194.0 L251.7,192.9 L252.2,191.8 L252.6,190.7 L253.1,189.6 L253.5,188.5 L254.0,187.4 L254.4,186.3 L254.9,185.2 L255.4,184.1 L255.8,183.0 L256.3,181.9 L256.8,180.8 L257.2,179.7 L257.7,178.6 L258.2,177.5 L258.6,176.5 L259.1,175.4 L259.6,174.3 L260.1,173.2 L260.6,172.2 L261.1,171.1 L261.5,170.0 L262.0,168.9 L262.5,167.9 L263.0,166.8 L263.5,165.8 L264.0,164.7 L264.5,163.7 L265.1,162.6 L265.6,161.6 L266.1,160.5 L266.6,159.5 L267.1,158.4 L267.6,157.4 L268.2,156.4 L268.7,155.3 L269.2,154.3 L269.8,153.3 L270.3,152.3 L270.8,151.2 L271.4,150.2 L271.9,149.2 L272.5,148.2 L273.0,147.2 L273.6,146.2 L274.2,145.2 L274.7,144.2 L275.3,143.2 L275.9,142.2 L276.4,141.3 L277.0,140.3 L277.6,139.3 L278.2,138.3 L278.8,137.4 L279.4,136.4 L280.0,135.4 L280.6,134.5 L281.2,133.5 L281.8,132.6 L282.4,131.6 L283.0,130.7 L283.7,129.8 L284.3,128.8 L284.9,127.9 L285.6,127.0 L286.2,126.1 L286.8,125.2 L287.5,124.2 L288.1,123.3 L288.8,122.4 L289.5,121.5 L290.1,120.7 L290.8,119.8 L291.5,118.9 L292.2,118.0 L292.9,117.1 L293.6,116.3 L294.2,115.4 L295.0,114.6 L295.7,113.7 L296.4,112.9 L297.1,112.0 L297.8,111.2 L298.5,110.3 L299.3,109.5 L300.0,108.7 L300.7,107.9 L301.5,107.0 L302.2,106.2 L303.0,105.4 L303.7,104.6 L304.5,103.8 L305.3,103.0 L306.0,102.3 L306.8,101.5 L307.6,100.7 L308.4,99.9 L309.2,99.1 L310.0,98.4 L310.8,97.6 L311.6,96.9 L312.4,96.1 L313.2,95.4 L314.0,94.6 L314.8,93.9 L315.6,93.1 L316.5,92.4 L317.3,91.7 L318.1,91.0 L319.0,90.2 L319.8,89.5 L320.7,88.8 L321.5,88.1 L322.4,87.4 L323.2,86.7 L324.1,86.0 L325.0,85.3 L325.9,84.7 L326.7,84.0 L327.6,83.3 L328.5,82.7 L329.4,82.0 L330.3,81.3 L331.2,80.7 L332.1,80.1 L333.0,79.4 L333.9,78.8 L334.9,78.2 L335.8,77.5 L336.7,76.9 L337.6,76.3 L338.6,75.7 L339.5,75.0 L340.5,74.4 L341.4,73.8 L342.4,73.2 L343.3,72.6 L344.3,72.0 L345.2,71.4 L346.2,70.8 L347.2,70.2 L348.1,69.7 L349.1,69.1 L350.1,68.5 L351.1,68.0 L352.1,67.4 L353.1,66.9 L354.1,66.3 L355.1,65.8 L356.1,65.2 L357.1,64.7 L358.1,64.2 L359.1,63.7 L360.2,63.2 L361.2,62.7 L362.2,62.2 L363.3,61.7 L364.3,61.2 L365.3,60.7 L366.4,60.2 L367.4,59.7 L368.5,59.2 L369.5,58.7 L370.6,58.3 L371.7,57.8 L372.7,57.3 L373.8,56.9 L374.9,56.4 L376.0,56.0 L377.1,55.5 L378.1,55.1 L379.2,54.6 L380.3,54.2 L381.4,53.8 L382.5,53.3 L383.6,52.9 L384.8,52.5 L385.9,52.0 L387.0,51.6 L388.1,51.2 L389.2,50.8 L390.4,50.4 L391.5,50.0 L392.6,49.6 L393.8,49.1 L394.9,48.7 L396.0,48.3 L397.2,48.0 L398.4,47.6 L399.5,47.2 L400.7,46.8 L401.8,46.4 L403.0,46.0 L404.2,45.6 L405.3,45.2 L406.5,44.9 L407.7,44.5 L408.9,44.1 L410.1,43.8 L411.3,43.4 L412.5,43.0 L413.7,42.7 L414.8,42.3 L416.1,41.9 L417.3,41.6 L418.5,41.2 L419.7,40.9 L420.9,40.5 L422.1,40.2 L423.3,39.8 L424.6,39.5 L425.8,39.2 L427.0,38.8 L428.2,38.5 L429.5,38.1 L430.7,37.8 L431.9,37.5 L433.2,37.2 L434.4,36.8 L435.7,36.5 L436.9,36.2 L438.2,35.9 L439.4,35.5 L440.7,35.2 L441.9,34.9 L443.2,34.6 L444.5,34.3 L445.7,34.0 L447.0,33.7 L448.3,33.4 L449.6,33.1 L450.8,32.7 L452.1,32.4 L453.4,32.1 L454.7,31.8 L455.9,31.6 L457.2,31.3 L458.5,31.0 L459.8,30.7 L461.1,30.4 L462.4,30.1 L463.7,29.8 L465.0,29.5 L466.3,29.2 L467.6,29.0 L468.9,28.7 L470.2,28.4 L471.5,28.1 L472.8,27.9 L474.1,27.6 L475.4,27.3 L476.7,27.0 L478.0,26.8 L479.3,26.5 L480.6,26.2 L482.0,26.0 L483.3,25.7 L484.6,25.4 L485.9,25.2 L487.2,24.9 L488.5,24.7 L489.9,24.4 L491.2,24.2 L492.5,23.9 L493.8,23.6 L495.2,23.4 L496.5,23.1 L497.8,22.9 L499.2,22.6 L500.5,22.4 L501.8,22.2 L503.1,21.9 L504.5,21.7 L505.8,21.4 L507.1,21.2 L508.5,21.0 L509.8,20.7 L511.1,20.5 L512.5,20.3 L513.8,20.0 L515.1,19.8 L516.5,19.6 L517.8,19.3 L519.2,19.1 L520.5,18.9 L521.8,18.6 L523.2,18.4 L524.5,18.2 L525.9,18.0 L527.2,17.8 L528.5,17.5 L529.9,17.3 L531.2,17.1 L532.5,16.9 L533.9,16.7 L535.2,16.5 L536.6,16.2 L537.9,16.0 L539.2,15.8 L540.6,15.6 L541.9,15.4 L543.3,15.2 L544.6,15.0 L545.9,14.8 L547.3,14.6 L548.6,14.4 L549.9,14.2 L551.3,14.0 L552.6,13.8 L554.0,13.6 L555.3,13.4 L556.6,13.2 L558.0,13.0 L559.3,12.8 L560.6,12.6 L561.9,12.4 L563.3,12.2 L564.4,12.1" fill="none" stroke="#800080" stroke-width="1.8" stroke-dasharray="4.6 3.93" stroke-linejoin="round"/>
<line x1="71.2" y1="301.2" x2="565.5" y2="301.2" stroke="#7a7a7a" stroke-width="1.6" stroke-dasharray="4.6 3.93"/>
<line x1="208.6" y1="0.6" x2="208.6" y2="318.3" stroke="#000" stroke-width="1.05"/>
<rect x="61.0" y="0.6" width="515.0" height="317.7" fill="none" stroke="#000" stroke-width="1.4"/>
<path d="M71.5,318.3v-2.4M71.5,0.6v2.4M90.5,318.3v-2.4M90.5,0.6v2.4M109.5,318.3v-4.2M109.5,0.6v4.2M128.5,318.3v-2.4M128.5,0.6v2.4M147.5,318.3v-2.4M147.5,0.6v2.4M166.5,318.3v-2.4M166.5,0.6v2.4M185.5,318.3v-4.2M185.5,0.6v4.2M204.5,318.3v-2.4M204.5,0.6v2.4M223.5,318.3v-2.4M223.5,0.6v2.4M242.5,318.3v-2.4M242.5,0.6v2.4M261.5,318.3v-4.2M261.5,0.6v4.2M280.5,318.3v-2.4M280.5,0.6v2.4M299.5,318.3v-2.4M299.5,0.6v2.4M318.5,318.3v-2.4M318.5,0.6v2.4M337.5,318.3v-4.2M337.5,0.6v4.2M356.5,318.3v-2.4M356.5,0.6v2.4M375.5,318.3v-2.4M375.5,0.6v2.4M394.5,318.3v-2.4M394.5,0.6v2.4M413.5,318.3v-4.2M413.5,0.6v4.2M432.5,318.3v-2.4M432.5,0.6v2.4M451.5,318.3v-2.4M451.5,0.6v2.4M470.5,318.3v-2.4M470.5,0.6v2.4M489.5,318.3v-4.2M489.5,0.6v4.2M508.5,318.3v-2.4M508.5,0.6v2.4M527.5,318.3v-2.4M527.5,0.6v2.4M546.5,318.3v-2.4M546.5,0.6v2.4M565.5,318.3v-4.2M565.5,0.6v4.2M61.0,315.6h2.8M576.0,315.6h-2.8M61.0,312.0h2.8M576.0,312.0h-2.8M61.0,309.0h2.8M576.0,309.0h-2.8M61.0,306.3h2.8M576.0,306.3h-2.8M61.0,304.0h2.8M576.0,304.0h-2.8M61.0,301.9h5.0M576.0,301.9h-5.0M61.0,288.2h2.8M576.0,288.2h-2.8M61.0,280.1h2.8M576.0,280.1h-2.8M61.0,274.4h2.8M576.0,274.4h-2.8M61.0,270.0h2.8M576.0,270.0h-2.8M61.0,266.4h2.8M576.0,266.4h-2.8M61.0,263.4h2.8M576.0,263.4h-2.8M61.0,260.7h2.8M576.0,260.7h-2.8M61.0,258.4h2.8M576.0,258.4h-2.8M61.0,256.3h5.0M576.0,256.3h-5.0M61.0,242.6h2.8M576.0,242.6h-2.8M61.0,234.5h2.8M576.0,234.5h-2.8M61.0,228.8h2.8M576.0,228.8h-2.8M61.0,224.4h2.8M576.0,224.4h-2.8M61.0,220.8h2.8M576.0,220.8h-2.8M61.0,217.8h2.8M576.0,217.8h-2.8M61.0,215.1h2.8M576.0,215.1h-2.8M61.0,212.8h2.8M576.0,212.8h-2.8M61.0,210.7h5.0M576.0,210.7h-5.0M61.0,197.0h2.8M576.0,197.0h-2.8M61.0,188.9h2.8M576.0,188.9h-2.8M61.0,183.2h2.8M576.0,183.2h-2.8M61.0,178.8h2.8M576.0,178.8h-2.8M61.0,175.2h2.8M576.0,175.2h-2.8M61.0,172.2h2.8M576.0,172.2h-2.8M61.0,169.5h2.8M576.0,169.5h-2.8M61.0,167.2h2.8M576.0,167.2h-2.8M61.0,165.1h5.0M576.0,165.1h-5.0M61.0,151.4h2.8M576.0,151.4h-2.8M61.0,143.3h2.8M576.0,143.3h-2.8M61.0,137.6h2.8M576.0,137.6h-2.8M61.0,133.2h2.8M576.0,133.2h-2.8M61.0,129.6h2.8M576.0,129.6h-2.8M61.0,126.6h2.8M576.0,126.6h-2.8M61.0,123.9h2.8M576.0,123.9h-2.8M61.0,121.6h2.8M576.0,121.6h-2.8M61.0,119.5h5.0M576.0,119.5h-5.0M61.0,105.8h2.8M576.0,105.8h-2.8M61.0,97.7h2.8M576.0,97.7h-2.8M61.0,92.0h2.8M576.0,92.0h-2.8M61.0,87.6h2.8M576.0,87.6h-2.8M61.0,84.0h2.8M576.0,84.0h-2.8M61.0,81.0h2.8M576.0,81.0h-2.8M61.0,78.3h2.8M576.0,78.3h-2.8M61.0,76.0h2.8M576.0,76.0h-2.8M61.0,73.9h5.0M576.0,73.9h-5.0M61.0,60.2h2.8M576.0,60.2h-2.8M61.0,52.1h2.8M576.0,52.1h-2.8M61.0,46.4h2.8M576.0,46.4h-2.8M61.0,42.0h2.8M576.0,42.0h-2.8M61.0,38.4h2.8M576.0,38.4h-2.8M61.0,35.4h2.8M576.0,35.4h-2.8M61.0,32.7h2.8M576.0,32.7h-2.8M61.0,30.4h2.8M576.0,30.4h-2.8M61.0,28.3h5.0M576.0,28.3h-5.0M61.0,14.6h2.8M576.0,14.6h-2.8M61.0,6.5h2.8M576.0,6.5h-2.8M61.0,0.8h2.8M576.0,0.8h-2.8" stroke="#000" stroke-width="1.2" fill="none"/>
<g font-family="Liberation Serif, serif" font-size="17.0" fill="#000" style="will-change:transform">
<text transform="translate(104.0,334.5) scale(1.08,1.0)" text-anchor="middle">−</text>
<text transform="translate(115.3,334.5) scale(1.08,1.0)" text-anchor="middle">4</text>
<text transform="translate(180.0,334.5) scale(1.08,1.0)" text-anchor="middle">−</text>
<text transform="translate(191.3,334.5) scale(1.08,1.0)" text-anchor="middle">2</text>
<text transform="translate(261.5,334.5) scale(1.08,1.0)" text-anchor="middle">0</text>
<text transform="translate(337.5,334.5) scale(1.08,1.0)" text-anchor="middle">2</text>
<text transform="translate(413.5,334.5) scale(1.08,1.0)" text-anchor="middle">4</text>
<text transform="translate(489.5,334.5) scale(1.08,1.0)" text-anchor="middle">6</text>
<text transform="translate(565.5,334.5) scale(1.08,1.0)" text-anchor="middle">8</text>
<text transform="translate(318.0,357.9) scale(1.06,1.0)" text-anchor="middle">N</text>
<text transform="translate(56.2,306.0) scale(1.08,1.0)" text-anchor="end" letter-spacing="-1.25">1</text>
<text transform="translate(56.2,260.4) scale(1.08,1.0)" text-anchor="end" letter-spacing="-1.25">10</text>
<text transform="translate(56.2,214.8) scale(1.08,1.0)" text-anchor="end" letter-spacing="-1.25">100</text>
<text transform="translate(56.2,169.2) scale(1.08,1.0)" text-anchor="end" letter-spacing="-1.25">1000</text>
<text transform="translate(48.8,126.4) scale(1.08,1.0)" text-anchor="end" letter-spacing="-1.25">10</text>
<text transform="translate(50.0,120.2) scale(1.0,1.0)" text-anchor="start" font-size="12.4">4</text>
<text transform="translate(48.8,80.8) scale(1.08,1.0)" text-anchor="end" letter-spacing="-1.25">10</text>
<text transform="translate(50.0,74.6) scale(1.0,1.0)" text-anchor="start" font-size="12.4">5</text>
<text transform="translate(48.8,35.2) scale(1.08,1.0)" text-anchor="end" letter-spacing="-1.25">10</text>
<text transform="translate(50.0,29.0) scale(1.0,1.0)" text-anchor="start" font-size="12.4">6</text>
</g>
<g transform="translate(12.9,238.6) rotate(-90)" fill="none" stroke="#000" stroke-linecap="round" stroke-linejoin="round">
<g transform="translate(0,-11)"><path d="M6.0,0.6 C5.5,3 4.7,5.4 4.1,7.0 C3.5,8.8 2.8,10.3 2.2,11.0 C1.9,11.4 1.5,11.5 1.2,11.3" stroke-width="1.35"/><path d="M6.0,0.6 C7.5,0.1 9.3,0.2 10.4,1.0 C11.5,1.9 11.6,3.4 10.8,4.7 C10,6 8.6,6.8 7.0,6.9 C5.6,7.0 4.2,7.0 2.9,6.9" stroke-width="1.1"/><path d="M6.0,0.6 C4.3,0.4 2.3,1.0 1.2,2.2 C0.2,3.3 0.0,4.6 0.7,5.4 C1.1,5.8 1.5,5.9 1.9,5.8" stroke-width="1.0"/></g>
<g transform="translate(25.4,-11)"><path d="M6.0,0.6 C5.5,3 4.7,5.4 4.1,7.0 C3.5,8.8 2.8,10.3 2.2,11.0 C1.9,11.4 1.5,11.5 1.2,11.3" stroke-width="1.35"/><path d="M6.0,0.6 C7.5,0.1 9.3,0.2 10.4,1.0 C11.5,1.9 11.6,3.4 10.8,4.7 C10,6 8.6,6.8 7.0,6.9 C5.6,7.0 4.2,7.0 2.9,6.9" stroke-width="1.1"/><path d="M6.0,0.6 C4.3,0.4 2.3,1.0 1.2,2.2 C0.2,3.3 0.0,4.6 0.7,5.4 C1.1,5.8 1.5,5.9 1.9,5.8" stroke-width="1.0"/></g>
<g transform="translate(57.5,-11)"><path d="M6.0,0.6 C5.5,3 4.7,5.4 4.1,7.0 C3.5,8.8 2.8,10.3 2.2,11.0 C1.9,11.4 1.5,11.5 1.2,11.3" stroke-width="1.35"/><path d="M6.0,0.6 C7.5,0.1 9.3,0.2 10.4,1.0 C11.5,1.9 11.6,3.4 10.8,4.7 C10,6 8.6,6.8 7.0,6.9 C5.6,7.0 4.2,7.0 2.9,6.9" stroke-width="1.1"/><path d="M6.0,0.6 C4.3,0.4 2.3,1.0 1.2,2.2 C0.2,3.3 0.0,4.6 0.7,5.4 C1.1,5.8 1.5,5.9 1.9,5.8" stroke-width="1.0"/></g>
<g transform="translate(82.7,-11)"><path d="M6.0,0.6 C5.5,3 4.7,5.4 4.1,7.0 C3.5,8.8 2.8,10.3 2.2,11.0 C1.9,11.4 1.5,11.5 1.2,11.3" stroke-width="1.35"/><path d="M6.0,0.6 C7.5,0.1 9.3,0.2 10.4,1.0 C11.5,1.9 11.6,3.4 10.8,4.7 C10,6 8.6,6.8 7.0,6.9 C5.6,7.0 4.2,7.0 2.9,6.9" stroke-width="1.1"/><path d="M6.0,0.6 C4.3,0.4 2.3,1.0 1.2,2.2 C0.2,3.3 0.0,4.6 0.7,5.4 C1.1,5.8 1.5,5.9 1.9,5.8" stroke-width="1.0"/></g>
<g transform="translate(114.8,-11)"><path d="M6.0,0.6 C5.5,3 4.7,5.4 4.1,7.0 C3.5,8.8 2.8,10.3 2.2,11.0 C1.9,11.4 1.5,11.5 1.2,11.3" stroke-width="1.35"/><path d="M6.0,0.6 C7.5,0.1 9.3,0.2 10.4,1.0 C11.5,1.9 11.6,3.4 10.8,4.7 C10,6 8.6,6.8 7.0,6.9 C5.6,7.0 4.2,7.0 2.9,6.9" stroke-width="1.1"/><path d="M6.0,0.6 C4.3,0.4 2.3,1.0 1.2,2.2 C0.2,3.3 0.0,4.6 0.7,5.4 C1.1,5.8 1.5,5.9 1.9,5.8" stroke-width="1.0"/></g>
<g transform="translate(139.4,-11)"><path d="M6.0,0.6 C5.5,3 4.7,5.4 4.1,7.0 C3.5,8.8 2.8,10.3 2.2,11.0 C1.9,11.4 1.5,11.5 1.2,11.3" stroke-width="1.35"/><path d="M6.0,0.6 C7.5,0.1 9.3,0.2 10.4,1.0 C11.5,1.9 11.6,3.4 10.8,4.7 C10,6 8.6,6.8 7.0,6.9 C5.6,7.0 4.2,7.0 2.9,6.9" stroke-width="1.1"/><path d="M6.0,0.6 C4.3,0.4 2.3,1.0 1.2,2.2 C0.2,3.3 0.0,4.6 0.7,5.4 C1.1,5.8 1.5,5.9 1.9,5.8" stroke-width="1.0"/></g>
<g transform="translate(12.2,-4.9)"><path d="M3.5,4.1 C1.5,4.2 0.3,3.3 0.5,2.0 C0.7,0.7 2.5,0.1 4.2,0.3 C6.0,0.5 7.2,1.4 6.9,2.6 C6.6,3.7 5.0,4.1 3.5,4.1" stroke-width="0.8"/><path d="M3.0,0.5 C2.9,2 2.7,3.2 2.4,4.4 C2.0,5.8 1.5,7 0.9,7.9" stroke-width="0.95"/><path d="M3.5,4.1 C4.5,5 5.4,6.6 6.3,7.9" stroke-width="1.1"/></g>
<path d="M21,2.8 L25.4,-10.7" stroke-width="0.75"/>
<path d="M77.6,2.8 L82.0,-10.7" stroke-width="0.75"/>
<path d="M133.9,2.8 L138.3,-10.7" stroke-width="0.75"/>
<g stroke="none" fill="#000" font-family="Liberation Serif, serif" style="will-change:transform">
<text x="37.5" y="3.1" font-size="12.6">0</text>
<text x="93.9" y="3.1" font-size="12.6">0</text>
<text x="150.0" y="3.1" font-size="12.6">0</text>
<text x="70.0" y="2.4" font-size="12.4" font-style="italic">n</text>
<text x="126.6" y="2.8" font-size="12.4" font-style="italic">b</text>
<text x="49.8" y="0" font-size="16">,</text>
<text x="106.8" y="0" font-size="16">,</text>
</g></g>
</svg>
</body></html>
